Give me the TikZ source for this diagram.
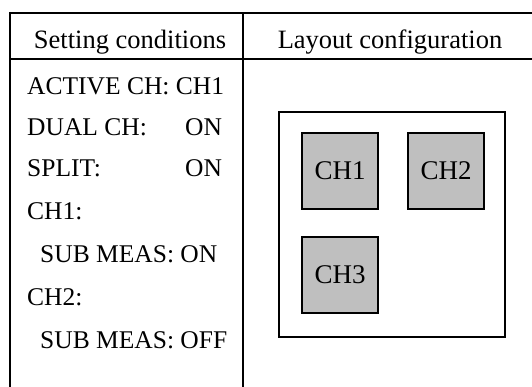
\documentclass[tikz,border=0pt]{standalone}
\usepackage{fontspec}
\setmainfont{Liberation Serif}
\usepackage{tikz}
\usetikzlibrary{positioning}

\begin{document}
\begin{tikzpicture}[x=1pt,y=-1pt,
    txt/.style={anchor=base west,inner sep=0pt,font=\fontsize{25.5}{30}\selectfont},
    head/.style={anchor=base,inner sep=0pt,font=\fontsize{26.5}{30}\selectfont},
    chbox/.style={draw,line width=1.6pt,fill=black!25,minimum size=76pt,inner sep=0pt,
                  font=\fontsize{27}{30}\selectfont}]
    \useasboundingbox (0,0) rectangle (532,387);

    % table frame
    \draw[line width=2.8pt] (10,12) -- (10,387);
    \draw[line width=1.8pt] (9,13) -- (532,13);
    \draw[line width=1.8pt] (9,59) -- (532,59);
    \draw[line width=1.3pt] (243,13) -- (243,387);

    \node[head] (hset) at (130,49) {Setting conditions};
    \node[head] (hlay) at (390,49) {Layout configuration};

    % setting conditions
    \node[txt] (active) at (27,95)  {ACTIVE CH: CH1};
    \node[txt] (dual)   at (27,136) {DUAL CH:};
    \node[txt] (dualv)  at (185,136) {ON};
    \node[txt] (split)  at (27,177) {SPLIT:};
    \node[txt] (splitv) at (185,177) {ON};
    \node[txt] (chone)  at (27,219) {CH1:};
    \node[txt] (subone) at (40,262) {SUB MEAS: ON};
    \node[txt] (chtwo)  at (27,305) {CH2:};
    \node[txt] (subtwo) at (40,348) {SUB MEAS: OFF};

    % layout configuration
    \draw[line width=1.6pt] (279,112) rectangle (505,337);
    \node[chbox] (ch1) at (340,171) {CH1};
    \node[chbox] (ch2) at (446,171) {CH2};
    \node[chbox] (ch3) at (340,275) {CH3};
\end{tikzpicture}
\end{document}
